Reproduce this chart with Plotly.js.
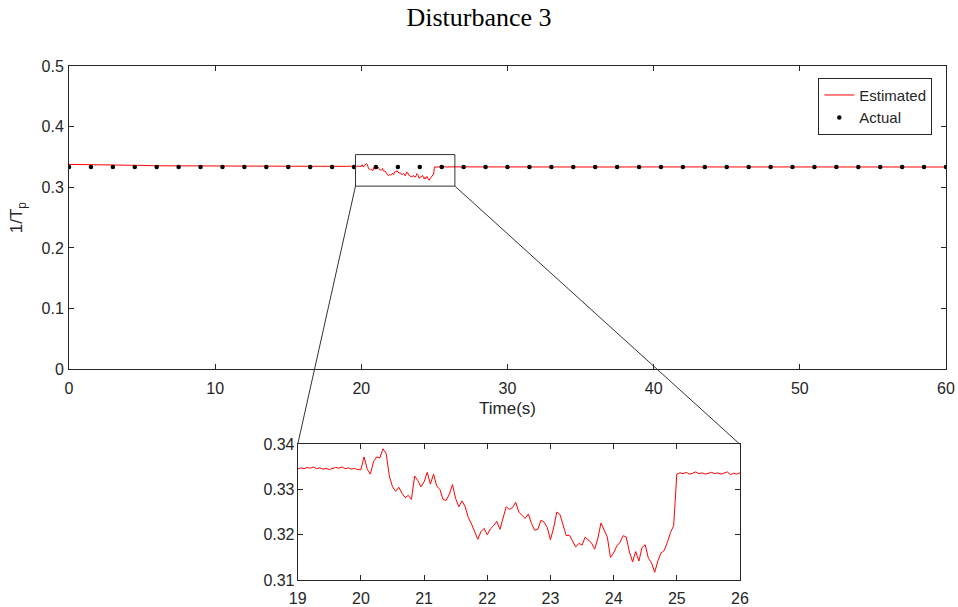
<!DOCTYPE html>
<html>
<head>
<meta charset="utf-8">
<script src="https://cdn.plot.ly/plotly-3.0.1.min.js"></script>
<style>html,body{margin:0;padding:0;background:#fff;}#chart{width:958px;height:607px;}</style>
</head>
<body>
<div id="chart"></div>
<script>
// ---- data ----
const actualTimes = [0,1.5,3,4.5,6,7.5,9,10.5,12,13.5,15,16.5,18,19.5,21,22.5,24,25.5,27,28.5,30,31.5,33,34.5,36,37.5,39,40.5,42,43.5,45,46.5,48,49.5,51,52.5,54,55.5,57,58.5,60];
const actualValues = [0.3333,0.3333,0.3333,0.3333,0.3333,0.3333,0.3333,0.3333,0.3333,0.3333,0.3333,0.3333,0.3333,0.3333,0.3333,0.3333,0.3333,0.3333,0.3333,0.3333,0.3333,0.3333,0.3333,0.3333,0.3333,0.3333,0.3333,0.3333,0.3333,0.3333,0.3333,0.3333,0.3333,0.3333,0.3333,0.3333,0.3333,0.3333,0.3333,0.3333,0.3333];

const estEarlyTimes = [0,1,2,3,4,5,6,8,10,12,14,16,18,19];
const estEarlyValues = [0.3378,0.3377,0.3376,0.3373,0.3368,0.3361,0.3355,0.3351,0.3349,0.3348,0.3347,0.3347,0.3347,0.3345];

// disturbance window, sampled every 0.05 s from 19.00 to 26.00
const zoomStart = 19;
const zoomStep = 0.05;
const estZoomValues = [
  0.3345,0.3348,0.3346,0.3349,0.3347,0.3350,0.3346,0.3348,0.3345,0.3347,
  0.3344,0.3346,0.3349,0.3347,0.3350,0.3346,0.3348,0.3345,0.3347,0.3344,
  0.3344,0.3372,0.3345,0.3334,0.3362,0.3372,0.3370,0.3390,0.3380,0.3330,
  0.3306,0.3296,0.3305,0.3292,0.3282,0.3287,0.3278,0.3330,0.3320,0.3306,
  0.3317,0.3338,0.3312,0.3334,0.3308,0.3300,0.3278,0.3276,0.3290,0.3311,
  0.3280,0.3262,0.3275,0.3262,0.3238,0.3224,0.3205,0.3190,0.3207,0.3214,
  0.3200,0.3213,0.3220,0.3230,0.3212,0.3240,0.3262,0.3256,0.3260,0.3272,
  0.3250,0.3243,0.3236,0.3246,0.3225,0.3210,0.3212,0.3232,0.3228,0.3216,
  0.3189,0.3215,0.3250,0.3245,0.3220,0.3198,0.3199,0.3185,0.3173,0.3181,
  0.3177,0.3195,0.3188,0.3182,0.3168,0.3192,0.3226,0.3212,0.3195,0.3150,
  0.3160,0.3175,0.3183,0.3198,0.3195,0.3162,0.3140,0.3163,0.3142,0.3172,
  0.3178,0.3148,0.3138,0.3117,0.3142,0.3160,0.3165,0.3183,0.3205,0.3220,
  0.3334,0.3337,0.3335,0.3338,0.3334,0.3336,0.3339,0.3335,0.3337,0.3334,
  0.3336,0.3338,0.3335,0.3337,0.3334,0.3336,0.3339,0.3333,0.3336,0.3334,
  0.3337
];

const estLateTimes = [26,28,30,33,36,40,44,48,52,56,60];
const estLateValues = [0.3337,0.3335,0.3336,0.3334,0.3335,0.3336,0.3334,0.3335,0.3336,0.3334,0.3335];

const zoomBox = {x0: 19.6, x1: 26.4, y0: 0.302, y1: 0.354};

// ---- layout geometry ----
const mainDomainY = [0.4099, 1];
const insetDomainX = [0.2608, 0.7651];
const insetDomainY = [0, 0.264];
const mainRangeX = [0, 60];
const mainRangeY = [0, 0.5];

const red = '#ff0000';
const axisCol = '#262626';
const font = 'Liberation Sans, Arial, sans-serif';

const traces = [
  {x: estEarlyTimes, y: estEarlyValues, type: 'scatter', mode: 'lines', line: {color: red, width: 1}, name: 'Estimated', legendgroup: 'e', showlegend: true, xaxis: 'x', yaxis: 'y'},
  {x0: zoomStart, dx: zoomStep, y: estZoomValues, type: 'scatter', mode: 'lines', line: {color: red, width: 1}, name: 'Estimated', legendgroup: 'e', showlegend: false, xaxis: 'x', yaxis: 'y'},
  {x: estLateTimes, y: estLateValues, type: 'scatter', mode: 'lines', line: {color: red, width: 1}, name: 'Estimated', legendgroup: 'e', showlegend: false, xaxis: 'x', yaxis: 'y'},
  {x: actualTimes, y: actualValues, type: 'scatter', mode: 'markers', marker: {color: '#000', size: 4.5}, name: 'Actual', xaxis: 'x', yaxis: 'y'},
  {x0: zoomStart, dx: zoomStep, y: estZoomValues, type: 'scatter', mode: 'lines', line: {color: red, width: 1}, showlegend: false, xaxis: 'x2', yaxis: 'y2'}
];

function px(v, r, d) { return d[0] + (v - r[0]) / (r[1] - r[0]) * (d[1] - d[0]); }
const boxLeftP = px(zoomBox.x0, mainRangeX, [0, 1]);
const boxRightP = px(zoomBox.x1, mainRangeX, [0, 1]);
const boxBottomP = px(zoomBox.y0, mainRangeY, mainDomainY);

const axBase = {
  showline: true, linecolor: axisCol, linewidth: 1, mirror: 'ticks',
  ticks: 'inside', ticklen: 5, tickcolor: axisCol, showgrid: false, zeroline: false,
  tickfont: {family: font, size: 16, color: axisCol}
};

const layout = {
  width: 958, height: 607,
  margin: {l: 69, r: 12, t: 66, b: 27},
  paper_bgcolor: '#fff', plot_bgcolor: 'rgba(0,0,0,0)',
  title: {text: 'Disturbance 3', font: {family: 'Liberation Serif, serif', size: 26, color: '#000'}, x: 0.5, xanchor: 'center', y: 0.972, yref: 'container', yanchor: 'middle'},
  xaxis: Object.assign({}, axBase, {range: mainRangeX, dtick: 10, anchor: 'y', domain: [0, 1], ticklabelstandoff: 4,
    title: {text: 'Time(s)', font: {family: font, size: 17, color: axisCol}, standoff: 6}}),
  yaxis: Object.assign({}, axBase, {range: mainRangeY, dtick: 0.1, anchor: 'x', domain: mainDomainY, ticklabelstandoff: 1,
    title: {text: '1/T<sub>p</sub>', font: {family: font, size: 17, color: axisCol}, standoff: 14}}),
  xaxis2: Object.assign({}, axBase, {range: [19, 26], dtick: 1, anchor: 'y2', domain: insetDomainX, ticklabelstandoff: 4}),
  yaxis2: Object.assign({}, axBase, {range: [0.31, 0.34], dtick: 0.01, tickformat: '.2f', anchor: 'x2', domain: insetDomainY, ticklabelstandoff: -1}),
  legend: {x: 0.9844, xanchor: 'right', y: 0.9772, yanchor: 'top', bgcolor: '#fff', bordercolor: axisCol, borderwidth: 1,
    font: {family: font, size: 15, color: axisCol}, tracegroupgap: 0},
  shapes: [
    {type: 'rect', xref: 'x', yref: 'y', x0: zoomBox.x0, x1: zoomBox.x1, y0: zoomBox.y0, y1: zoomBox.y1, line: {color: '#333', width: 1}},
    {type: 'line', xref: 'paper', yref: 'paper', x0: boxLeftP, y0: boxBottomP, x1: insetDomainX[0], y1: insetDomainY[1], line: {color: '#333', width: 1}},
    {type: 'line', xref: 'paper', yref: 'paper', x0: boxRightP, y0: boxBottomP, x1: insetDomainX[1], y1: insetDomainY[1], line: {color: '#333', width: 1}}
  ],
  showlegend: true
};

Plotly.newPlot('chart', traces, layout, {displayModeBar: false, staticPlot: true});
</script>
</body>
</html>
